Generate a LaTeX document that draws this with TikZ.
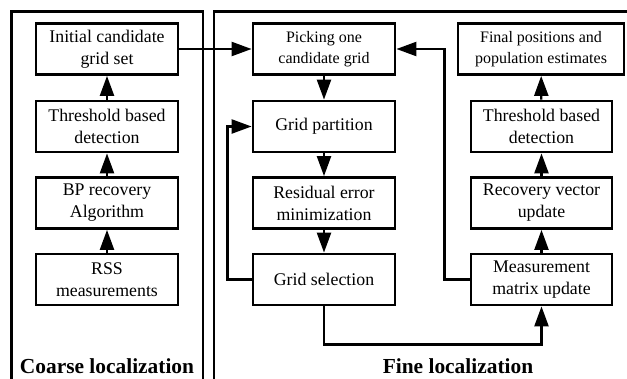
\documentclass[tikz,border=0pt]{standalone}
\usepackage{fontspec}
\setmainfont{Liberation Serif}
\usetikzlibrary{arrows.meta,positioning}
\tikzset{
  blk/.style={draw, line width=2.8pt, minimum width=142pt, minimum height=51pt, align=center, inner sep=0pt, font=\fontsize{17.8}{22}\selectfont},
  sblk/.style={blk, font=\fontsize{16}{21}\selectfont},
  conn/.style={line width=2.3pt, -{Triangle[length=20pt,width=14pt]}},
  frame/.style={line width=2.8pt},
  lbl/.style={font=\fontsize{21.4}{24}\selectfont\bfseries, anchor=base, inner sep=0pt}
}
\begin{document}
\begin{tikzpicture}[x=1pt,y=-1pt]
\useasboundingbox (0,0) rectangle (627,378);
% frames
\draw[frame] (11.5,390) -- (11.5,11.5) -- (203,11.5) -- (203,390);
\draw[frame] (214,390) -- (214,11.5) -- (640,11.5);
% left column
\node[blk] (init) at (107,49) {Initial candidate\\grid set};
\node[blk] (thrA) at (107,126.5) {Threshold based\\detection};
\node[blk] (bp) at (107,203) {BP recovery\\Algorithm};
\node[blk] (rss) at (107,279.5) {RSS\\measurements};
% middle column
\node[sblk] (pick) at (324,49) {Picking one\\candidate grid};
\node[blk] (part) at (324,126.5) {Grid partition};
\node[blk] (res) at (324,203) {Residual error\\minimization};
\node[blk] (sel) at (324,279.5) {Grid selection};
% right column
\node[sblk, minimum width=166pt] (fin) at (541,49) {Final positions and\\population estimates};
\node[blk, minimum width=141pt] (thrB) at (541.5,126.5) {Threshold based\\detection};
\node[blk, minimum width=141pt] (rec) at (541.5,203) {Recovery vector\\update};
\node[blk, minimum width=141pt] (meas) at (541.5,279.5) {Measurement\\matrix update};
% connectors
\draw[conn] (rss) -- (bp);
\draw[conn] (bp) -- (thrA);
\draw[conn] (thrA) -- (init);
\draw[conn] (init) -- (pick);
\draw[conn] (pick) -- (part);
\draw[conn] (part) -- (res);
\draw[conn] (res) -- (sel);
\draw[conn] (sel.west) -- ++(-24,0) |- (part.west);
\draw[conn] (sel.south) -- ++(0,38) -| (meas.south);
\draw[conn] (meas.west) -- ++(-25,0) |- (pick.east);
\draw[conn] (meas) -- (rec);
\draw[conn] (rec) -- (thrB);
\draw[conn] (thrB) -- (fin);
% labels
\node[lbl] (coarse) at (107,373) {Coarse localization};
\node[lbl] (fine) at (458,373) {Fine localization};
\end{tikzpicture}
\end{document}
